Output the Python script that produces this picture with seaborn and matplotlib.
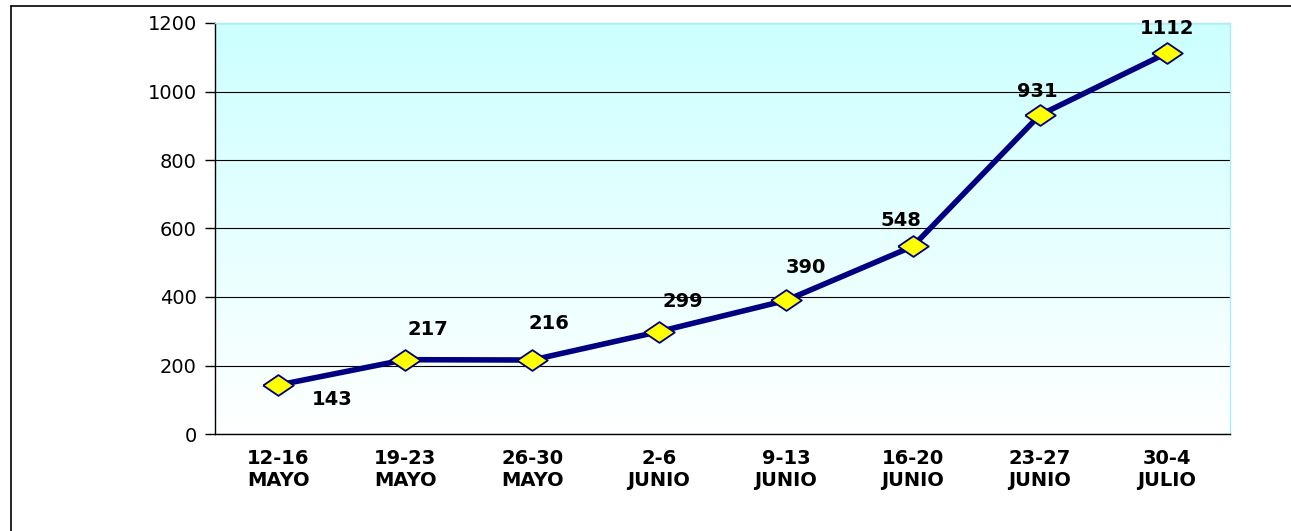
import numpy as np
import pandas as pd
import matplotlib
matplotlib.use("Agg")
import matplotlib.pyplot as plt
import seaborn as sns
from matplotlib.lines import Line2D
from matplotlib.colors import LinearSegmentedColormap

# datos
semanas = ["12-16\nMAYO", "19-23\nMAYO", "26-30\nMAYO", "2-6\nJUNIO",
           "9-13\nJUNIO", "16-20\nJUNIO", "23-27\nJUNIO", "30-4\nJULIO"]
valores = [143, 217, 216, 299, 390, 548, 931, 1112]
y_ticks = [0, 200, 400, 600, 800, 1000, 1200]

# desplazamiento de cada etiqueta (px)
label_offsets = [(54, -14), (23, 30), (17, 37), (24, 30),
                 (20, 33), (-12, 26), (-2, 24), (0, 25)]

sns.set_style("white")
plt.rcParams['font.family'] = ['DejaVu Sans']
plt.rcParams['text.color'] = 'black'
plt.rcParams['xtick.labelcolor'] = 'black'
plt.rcParams['ytick.labelcolor'] = 'black'

fig = plt.figure(figsize=(12.91, 5.31), dpi=100)
ax = fig.add_axes([215 / 1291, 97 / 531, 1015 / 1291, 411 / 531])

# fondo degradado (cian arriba, blanco abajo)
cmap = LinearSegmentedColormap.from_list("bg", ["#ffffff", "#ccffff"])
grad = np.linspace(0, 1, 256).reshape(-1, 1)
ax.imshow(grad, cmap=cmap, origin="lower", aspect="auto", extent=[0, 1, 0, 1],
          transform=ax.transAxes, zorder=0, interpolation="bicubic")

df = pd.DataFrame({"semana": np.arange(len(semanas)), "casos": valores})
diamond = [(-1, 0), (0, 0.68), (1, 0), (0, -0.68), (-1, 0)]
sns.lineplot(data=df, x="semana", y="casos", ax=ax, color="#000080",
             linewidth=4, marker=diamond, markersize=22,
             markerfacecolor="#ffff00", markeredgecolor="#000080",
             markeredgewidth=1.3, zorder=3)

for i, v in enumerate(valores):
    dx, dy = label_offsets[i]
    ax.annotate(str(v), (i, v), xytext=(dx * 0.72, dy * 0.72), textcoords="offset points",
                ha="center", va="center", fontsize=14, fontweight="bold",
                color="black", zorder=4)

ax.set_xlim(-0.5, len(semanas) - 0.5)
ax.set_ylim(0, 1200)
ax.set_yticks(y_ticks)
ax.set_yticklabels([str(t) for t in y_ticks], fontsize=14)
ax.set_xticks(np.arange(len(semanas)))
ax.set_xticklabels(semanas, fontsize=14, fontweight="bold", linespacing=1.2)
ax.set_xticks(np.arange(len(semanas) + 1) - 0.5, minor=True)
ax.tick_params(axis="x", which="major", length=0, pad=11)
ax.tick_params(axis="x", which="minor", length=5, width=1, color="black", direction="out")
ax.tick_params(axis="y", length=7, width=1, color="black", direction="out", pad=6, left=True)
ax.set_xlabel("")
ax.set_ylabel("")

ax.yaxis.grid(True, color="black", linewidth=0.8)
ax.xaxis.grid(False)
ax.set_axisbelow(True)

for side in ["left", "bottom"]:
    ax.spines[side].set_color("black")
    ax.spines[side].set_linewidth(1)
for side in ["top", "right"]:
    ax.spines[side].set_color("#aaeeee")
    ax.spines[side].set_linewidth(1)

# marco exterior
fig.add_artist(Line2D([11 / 1291, 11 / 1291], [0, 1 - 6 / 531], color="black", linewidth=1.2))
fig.add_artist(Line2D([11 / 1291, 1], [1 - 6 / 531, 1 - 6 / 531], color="black", linewidth=1.2))

fig.savefig("out.png", dpi=100)
